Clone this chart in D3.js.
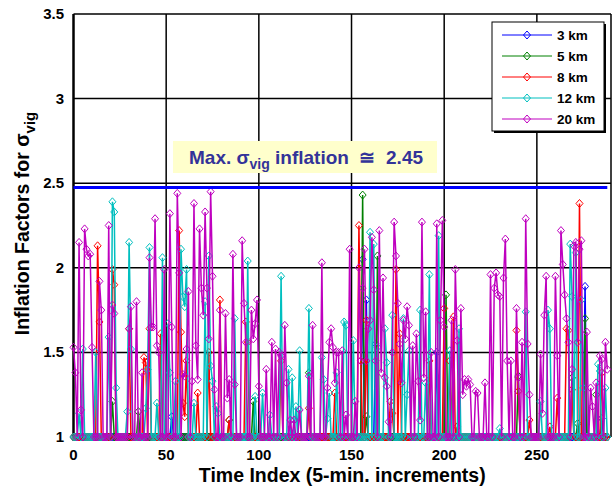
<!DOCTYPE html>
<html>
<head>
<meta charset="utf-8">
<script src="https://cdn.jsdelivr.net/npm/d3@7"></script>
<style>
  body { margin: 0; background: #fff; }
  text { font-family: Arial, "Liberation Sans", sans-serif; font-weight: bold; white-space: pre; }
</style>
</head>
<body>
<div id="chart"></div>
<script>
// time index runs 0..288, every unlisted index sits at the floor value 1
var numPoints = 289;
var floorValue = 1;
var maxInflation = 2.475;

var seriesNames = ['3 km', '5 km', '8 km', '12 km', '20 km'];
var seriesColors = ['#0000ff', '#008000', '#ff0000', '#00bfbf', '#bf00bf'];

// [time index, inflation factor] for points above the floor
var spikes3km = [[53,1.12],[156,2.05],[158,1.81],[163,1.55],[196,1.50],[276,1.89],[285,1.11]];

var spikes5km = [[21,1.21],[35,1.15],[84,1.10],[97,1.21],[127,1.38],[156,2.43],[158,1.12],
  [164,2.07],[201,1.84],[240,1.36],[269,1.35],[272,1.08],[276,1.70],[282,1.25]];

var spikes8km = [[13,2.13],[14,1.68],[21,1.99],[22,1.90],[30,1.64],[38,1.47],[39,1.44],[41,1.64],
  [47,1.61],[57,2.22],[58,1.62],[59,1.20],[60,1.12],[61,1.45],[67,1.26],[73,1.50],[79,1.81],
  [84,1.10],[93,1.68],[94,1.56],[112,1.45],[127,1.17],[141,1.26],[154,2.25],[155,1.45],
  [158,1.69],[171,1.21],[172,1.14],[174,1.99],[176,1.61],[192,1.45],[200,1.76],[203,1.45],
  [205,1.71],[207,1.06],[239,1.63],[240,1.27],[246,1.10],[257,1.06],[261,1.23],[266,1.64],
  [267,1.63],[269,1.28],[273,2.38],[285,1.38]];

var spikes12km = [[3,1.14],[5,1.52],[12,1.50],[19,1.59],[21,2.39],[22,2.33],[23,1.29],[29,1.15],
  [30,2.15],[31,1.52],[39,1.17],[40,1.40],[41,2.12],[45,1.20],[48,2.06],[51,1.67],[52,1.38],
  [55,1.33],[58,2.11],[59,1.83],[60,1.77],[61,1.99],[65,1.20],[71,1.80],[73,2.07],[74,1.42],
  [75,1.33],[77,1.18],[78,1.14],[87,1.70],[94,2.04],[98,1.24],[102,1.26],[106,1.13],[112,1.95],
  [116,1.40],[118,1.35],[120,1.18],[122,1.51],[127,1.76],[134,1.47],[135,1.34],[137,1.11],
  [138,1.26],[142,1.38],[146,1.68],[147,1.66],[151,1.57],[160,2.21],[162,2.14],[164,1.53],
  [168,1.64],[169,1.44],[172,1.72],[178,1.70],[180,1.25],[181,1.51],[187,1.75],[190,1.32],
  [192,1.96],[197,2.19],[203,1.51],[208,1.64],[230,1.05],[244,1.74],[252,1.21],[256,1.75],
  [257,1.64],[268,2.14],[269,1.83],[271,2.09],[274,1.81],[275,1.29],[283,1.43],[284,1.39],
  [287,1.29]];

var spikes20km = [[0,1.53],[1,1.38],[3,2.15],[4,1.16],[6,2.23],[7,2.11],[8,2.07],[9,2.08],
  [10,1.53],[14,1.92],[15,1.75],[19,2.25],[21,1.78],[22,1.73],[30,1.64],[31,1.77],[34,1.80],
  [37,1.38],[41,2.06],[42,1.65],[43,1.65],[44,2.29],[45,1.54],[46,1.50],[49,1.99],[52,2.32],
  [53,1.65],[56,2.44],[57,1.97],[59,1.37],[60,1.36],[61,1.52],[62,1.86],[64,1.33],[65,2.38],
  [66,1.54],[67,1.34],[68,2.23],[69,1.88],[70,1.72],[71,2.33],[72,1.88],[73,1.58],[74,2.45],
  [75,1.95],[76,1.28],[79,1.75],[82,1.73],[83,1.23],[84,1.34],[86,2.08],[87,1.31],[91,2.16],
  [92,1.79],[93,1.56],[96,1.75],[97,1.58],[98,1.67],[99,1.81],[100,1.30],[104,1.40],[107,1.56],
  [109,1.52],[111,1.50],[112,1.48],[114,1.66],[115,1.32],[117,1.10],[119,1.10],[122,1.16],
  [127,1.36],[129,1.66],[134,2.03],[137,1.29],[138,1.56],[139,1.64],[140,1.53],[141,1.32],
  [142,1.50],[143,1.50],[145,1.51],[147,1.13],[149,2.11],[152,1.21],[154,2.00],[155,1.45],
  [156,1.88],[157,2.11],[158,1.45],[159,1.64],[160,1.69],[161,2.18],[162,1.87],[163,1.45],
  [165,2.22],[166,1.38],[167,1.94],[168,1.35],[169,1.30],[170,1.09],[172,1.50],[173,2.27],
  [174,2.07],[175,1.79],[176,1.55],[177,1.32],[178,1.69],[179,1.58],[180,1.77],[181,1.66],
  [183,1.54],[185,1.61],[186,1.33],[187,1.10],[188,2.27],[189,1.35],[190,1.74],[193,1.50],
  [196,2.26],[198,1.69],[199,2.28],[200,1.65],[204,1.69],[206,1.99],[207,1.57],[209,1.76],
  [210,1.25],[211,1.34],[212,1.30],[213,1.34],[214,1.31],[217,1.27],[218,1.26],[222,1.32],
  [225,1.96],[227,1.88],[228,1.97],[229,1.84],[230,1.83],[232,1.94],[233,2.17],[234,1.45],
  [236,1.45],[239,1.76],[240,1.35],[242,1.56],[244,2.29],[245,1.55],[246,1.25],[252,1.49],
  [253,1.14],[254,1.72],[255,1.95],[260,1.95],[261,1.48],[263,2.22],[264,2.02],[265,1.84],
  [266,1.70],[267,1.56],[269,1.40],[270,2.13],[271,2.15],[272,1.56],[273,2.11],[274,2.16],
  [277,1.62],[279,1.29],[280,1.18],[282,1.32],[284,1.48],[285,1.46],[287,1.56],[288,1.40]];

var allSpikes = [spikes3km, spikes5km, spikes8km, spikes12km, spikes20km];

var yTicks = [1, 1.5, 2, 2.5, 3, 3.5];
var yTickLabels = ['1', '1.5', '2', '2.5', '3', '3.5'];
var xTicks = [0, 50, 100, 150, 200, 250];

var width = 616;
var height = 491;

var x = d3.scaleLinear().domain([0, 290]).range([73.5, 611]);
var y = d3.scaleLinear().domain([1, 3.5]).range([437, 14]);

var svg = d3.select('#chart')
  .append('svg')
    .attr('width', width)
    .attr('height', height);

// grid lines
svg.append('g')
    .selectAll('line.y-grid')
    .data(yTicks)
  .enter()
    .append('line')
    .attr('stroke', '#000')
    .attr('stroke-width', 1.5)
    .attr('x1', x(0))
    .attr('x2', x(290))
    .attr('y1', function(d) { return y(d); })
    .attr('y2', function(d) { return y(d); });

svg.append('g')
    .selectAll('line.x-grid')
    .data(xTicks.concat([290]))
  .enter()
    .append('line')
    .attr('stroke', '#000')
    .attr('stroke-width', function(d) { return d == 0 ? 2.5 : 1.5; })
    .attr('y1', y(1))
    .attr('y2', y(3.5))
    .attr('x1', function(d) { return x(d); })
    .attr('x2', function(d) { return x(d); });

// tick labels
svg.append('g')
    .selectAll('text')
    .data(yTicks)
  .enter()
    .append('text')
    .attr('font-size', '15px')
    .style('text-anchor', 'end')
    .attr('x', 64)
    .attr('y', function(d) { return y(d) + 5; })
    .text(function(d, i) { return yTickLabels[i]; });

svg.append('g')
    .selectAll('text')
    .data(xTicks)
  .enter()
    .append('text')
    .attr('font-size', '15px')
    .style('text-anchor', 'middle')
    .attr('x', function(d) { return x(d); })
    .attr('y', 460)
    .text(function(d) { return d; });

// axis titles
svg.append('text')
    .attr('font-size', '19.5px')
    .style('text-anchor', 'middle')
    .attr('x', (x(0) + x(290)) / 2)
    .attr('y', 482)
    .text('Time Index (5-min. increments)');

var yTitle = svg.append('text')
    .attr('font-size', '19.5px')
    .style('text-anchor', 'middle')
    .attr('transform', 'translate(29,' + ((y(1) + y(3.5)) / 2 - 2) + ') rotate(-90)');
yTitle.append('tspan').text('Inflation Factors for \u03c3');
yTitle.append('tspan').attr('font-size', '15px').attr('dy', 6).text('vig');

// series
var diamond = 'M0,-4L3.5,0L0,4L-3.5,0Z';
var line = d3.line()
    .x(function(d) { return x(d[0]); })
    .y(function(d) { return y(d[1]); });

allSpikes.forEach(function(spikes, k) {
    var lookup = new Map(spikes);
    var pts = d3.range(numPoints).map(function(i) {
        return [i, lookup.has(i) ? lookup.get(i) : floorValue];
    });
    var g = svg.append('g');
    g.append('path')
        .datum(pts)
        .attr('fill', 'none')
        .attr('stroke', seriesColors[k])
        .attr('stroke-width', 1.5)
        .attr('d', line);
    g.selectAll('path.mark')
        .data(pts)
      .enter()
        .append('path')
        .attr('class', 'mark')
        .attr('d', diamond)
        .attr('fill', 'none')
        .attr('stroke', seriesColors[k])
        .attr('stroke-width', 1)
        .attr('transform', function(d) {
            return 'translate(' + x(d[0]) + ',' + y(d[1]) + ')';
        });
});

// max inflation line
svg.append('line')
    .attr('stroke', '#0000ff')
    .attr('stroke-width', 3)
    .attr('x1', x(0))
    .attr('x2', x(288))
    .attr('y1', y(maxInflation))
    .attr('y2', y(maxInflation));

// annotation box
svg.append('rect')
    .attr('x', 173)
    .attr('y', 141)
    .attr('width', 264)
    .attr('height', 32)
    .attr('fill', '#ffffcc');
var note = svg.append('text')
    .attr('font-size', '19px')
    .attr('fill', '#333399')
    .attr('x', 189)
    .attr('y', 164);
note.append('tspan').text('Max. \u03c3');
note.append('tspan').attr('font-size', '14px').attr('dy', 5).text('vig');
note.append('tspan').attr('dy', -5).text(' inflation  \u2245  2.45');

// legend
var lg = svg.append('g');
lg.append('rect')
    .attr('x', 494).attr('y', 24)
    .attr('width', 112).attr('height', 109)
    .attr('fill', '#000');
lg.append('rect')
    .attr('x', 492).attr('y', 22)
    .attr('width', 112).attr('height', 109)
    .attr('fill', '#fff')
    .attr('stroke', '#000')
    .attr('stroke-width', 1);
var rows = lg.selectAll('g.row')
    .data(seriesNames)
  .enter()
    .append('g')
    .attr('transform', function(d, i) { return 'translate(0,' + (35 + i * 21) + ')'; });
rows.append('line')
    .attr('x1', 502).attr('x2', 552)
    .attr('stroke', function(d, i) { return seriesColors[i]; })
    .attr('stroke-width', 1);
rows.append('path')
    .attr('d', diamond)
    .attr('transform', 'translate(527,0)')
    .attr('fill', 'none')
    .attr('stroke', function(d, i) { return seriesColors[i]; });
rows.append('text')
    .attr('font-size', '13.5px')
    .attr('x', 557)
    .attr('y', 5)
    .text(function(d) { return d; });
</script>
</body>
</html>
